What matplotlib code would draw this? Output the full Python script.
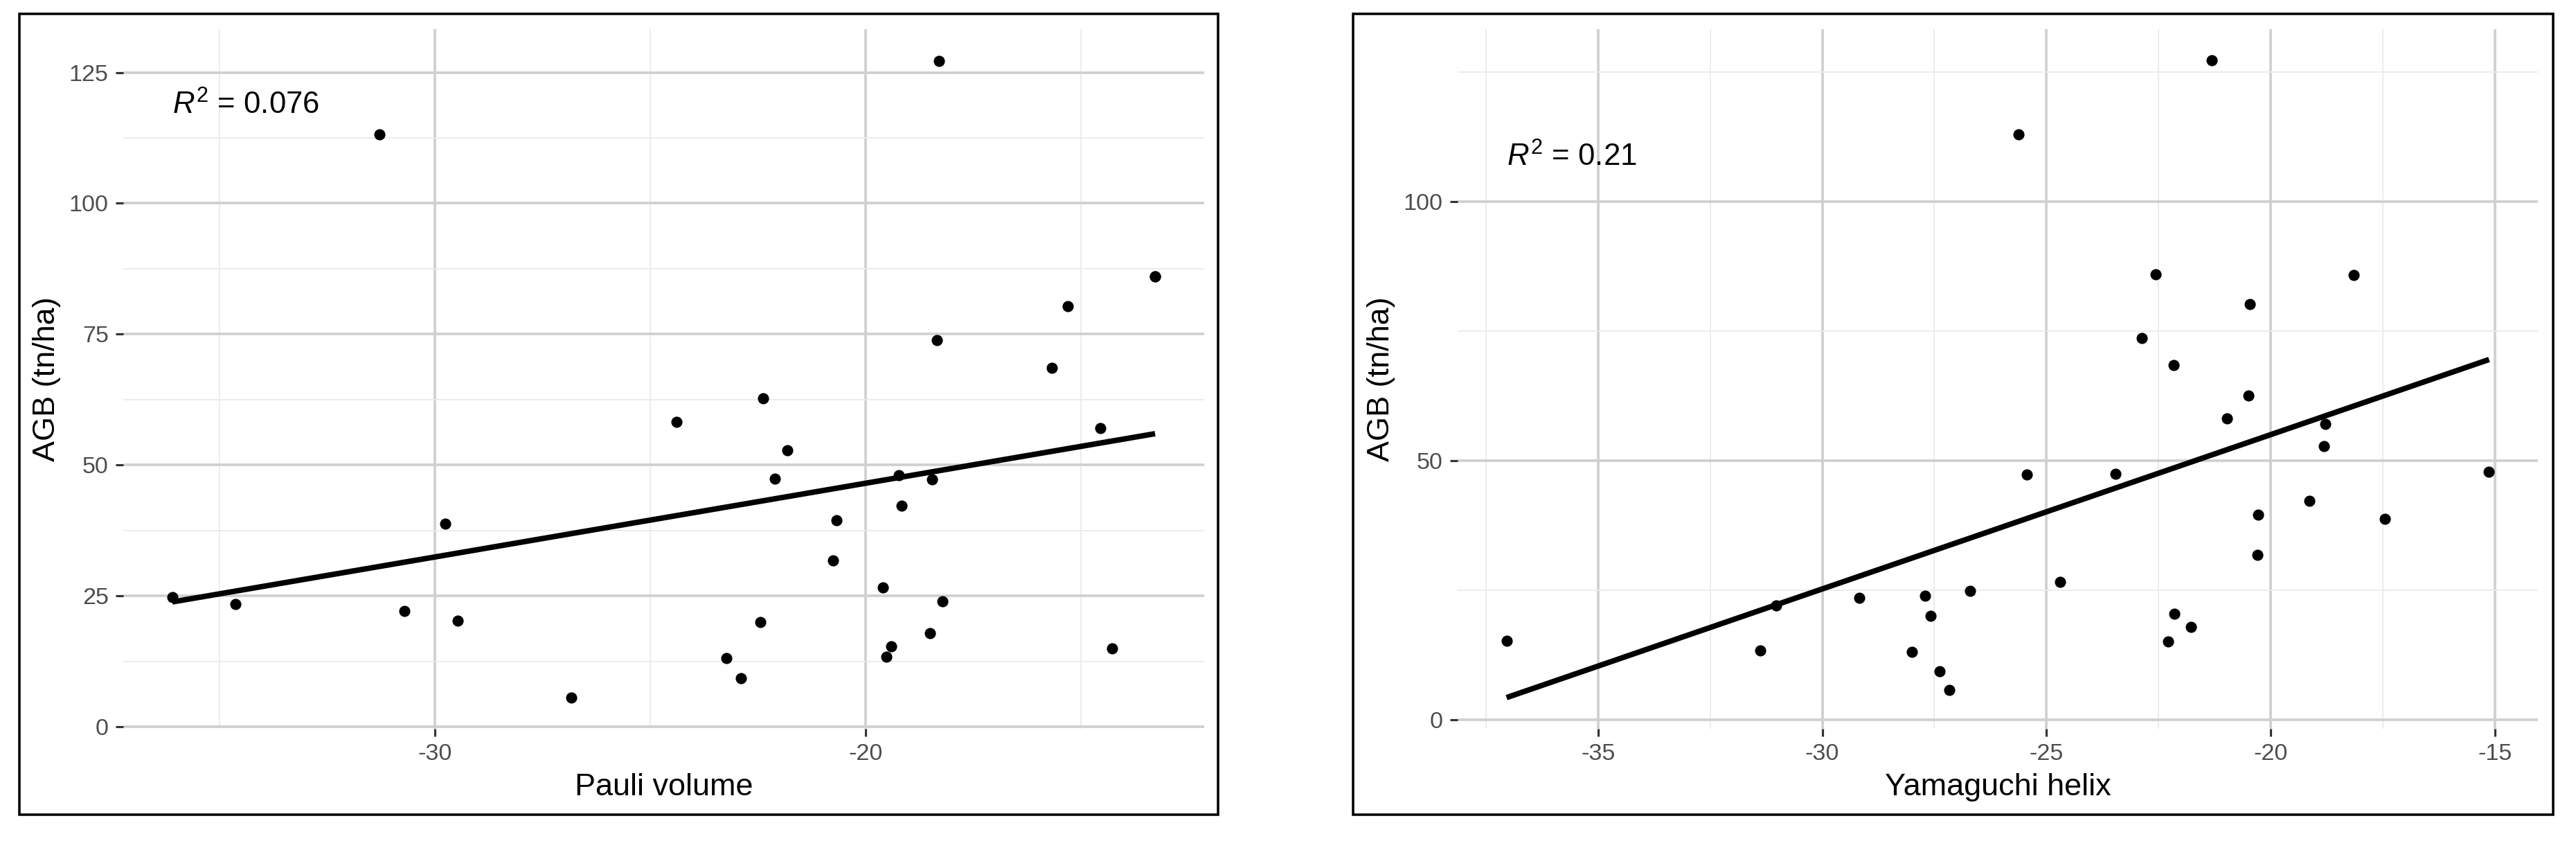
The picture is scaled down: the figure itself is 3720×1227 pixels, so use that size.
import numpy as np
import matplotlib
matplotlib.use("Agg")
import matplotlib.pyplot as plt
from matplotlib.patches import Rectangle

plt.rcParams["font.family"] = ["Liberation Sans", "DejaVu Sans"]
plt.rcParams["mathtext.fontset"] = "custom"
plt.rcParams["mathtext.rm"] = "Liberation Sans"
plt.rcParams["mathtext.it"] = "Liberation Sans:italic"
plt.rcParams["axes.unicode_minus"] = False

# data
pauli = [-36.09, -34.62, -31.29, -30.71, -29.76, -29.47, -26.83, -24.38, -23.23, -22.90,
         -22.45, -22.38, -22.10, -21.82, -20.75, -20.67, -19.59, -19.52, -19.41, -19.22,
         -19.17, -18.50, -18.45, -18.34, -18.30, -18.21, -15.68, -15.30, -14.55, -14.28,
         -13.28, -13.28]
agb_pauli = [24.8, 23.4, 113.1, 22.1, 38.8, 20.3, 5.6, 58.3, 13.1, 9.3,
             20.0, 62.7, 47.4, 52.8, 31.8, 39.5, 26.6, 13.3, 15.3, 48.0,
             42.2, 17.8, 47.3, 73.9, 127.2, 23.9, 68.6, 80.4, 57.0, 15.0,
             86.0, 86.0]

yamaguchi = [-37.04, -31.38, -31.03, -29.17, -28.00, -27.71, -27.59, -27.38, -27.17, -26.70,
             -25.62, -25.43, -24.70, -23.46, -22.87, -22.56, -22.28, -22.17, -22.15, -21.78,
             -21.31, -20.98, -20.49, -20.47, -20.30, -20.28, -19.13, -18.82, -18.78, -18.15,
             -17.46, -15.13]
agb_yama = [15.3, 13.3, 22.0, 23.5, 13.1, 23.9, 20.1, 9.4, 5.7, 24.8,
            113.0, 47.3, 26.6, 47.4, 73.7, 85.9, 15.1, 68.4, 20.4, 17.9,
            127.2, 58.1, 62.5, 80.2, 31.8, 39.5, 42.2, 52.8, 57.1, 85.8,
            38.8, 47.9]

pauli_xticks = [-30, -20]
pauli_xminor = [-35, -25, -15]
pauli_yticks = [0, 25, 50, 75, 100, 125]
pauli_yminor = [12.5, 37.5, 62.5, 87.5, 112.5]

yama_xticks = [-35, -30, -25, -20, -15]
yama_xminor = [-37.5, -32.5, -27.5, -22.5, -17.5]
yama_yticks = [0, 50, 100]
yama_yminor = [25, 75, 125]

W, H, DPI = 3720, 1227, 300
fig = plt.figure(figsize=(W / DPI, H / DPI), dpi=DPI)


def fx(px):
    return px / W


def fy(py):
    return 1 - py / H


def panel(x0, x1, x, y, xt, xm, yt, ym, ybottom, r2, r2y, xlab, ylab_x, frame):
    x = np.array(x)
    y = np.array(y)
    ax = fig.add_axes([fx(x0), fy(1052), fx(x1) - fx(x0), fy(42) - fy(1052)])
    rng = x.max() - x.min()
    ax.set_xlim(x.min() - 0.05 * rng, x.max() + 0.05 * rng)
    ax.set_ylim(ybottom, y.max() + 0.05 * (y.max() - y.min()))
    ax.set_xticks(xt)
    ax.set_xticklabels([str(v) for v in xt])
    ax.set_xticks(xm, minor=True)
    ax.set_yticks(yt)
    ax.set_yticklabels([str(v) for v in yt])
    ax.set_yticks(ym, minor=True)
    ax.grid(which="major", color="#D0D0D0", lw=0.9)
    ax.grid(which="minor", color="#EBEBEB", lw=0.45)
    ax.set_axisbelow(True)
    for s in ax.spines.values():
        s.set_visible(False)
    ax.tick_params(which="major", length=2.7, width=0.75, color="#333333",
                   labelsize=8.2, labelcolor="#4D4D4D", pad=2.4)
    ax.tick_params(which="minor", length=0)

    ax.scatter(x, y, s=15, color="black", linewidths=0, zorder=3)
    coef = np.polyfit(x, y, 1)
    xs = np.array([x.min(), x.max()])
    ax.plot(xs, np.polyval(coef, xs), color="black", lw=1.9, zorder=4,
            solid_capstyle="butt")
    ax.text(x.min(), r2y, r2, ha="left", va="baseline", fontsize=10.5)

    cx = (fx(x0) + fx(x1)) / 2
    fig.text(cx, fy(1148), xlab, ha="center", va="baseline", fontsize=10.8)
    fig.text(fx(ylab_x), fy(547), "AGB (tn/ha)", rotation=90, ha="center",
             va="center", fontsize=10.8)
    fig.patches.append(Rectangle((fx(frame[0]), fy(1175.5)),
                                 fx(frame[1]) - fx(frame[0]), fy(20) - fy(1175.5),
                                 transform=fig.transFigure, fill=False,
                                 edgecolor="black", lw=0.85))
    return ax


panel(178, 1739, pauli, agb_pauli, pauli_xticks, pauli_xminor, pauli_yticks,
      pauli_yminor, -0.4, r"$R^2$ = 0.076", 117.0, "Pauli volume", 67.5,
      (27.6, 1759))
panel(2104.7, 3665.4, yamaguchi, agb_yama, yama_xticks, yama_xminor, yama_yticks,
      yama_yminor, -1.74, r"$R^2$ = 0.21", 106.9, "Yamaguchi helix", 1995,
      (1954, 3687))

fig.savefig("out.png", dpi=DPI)
